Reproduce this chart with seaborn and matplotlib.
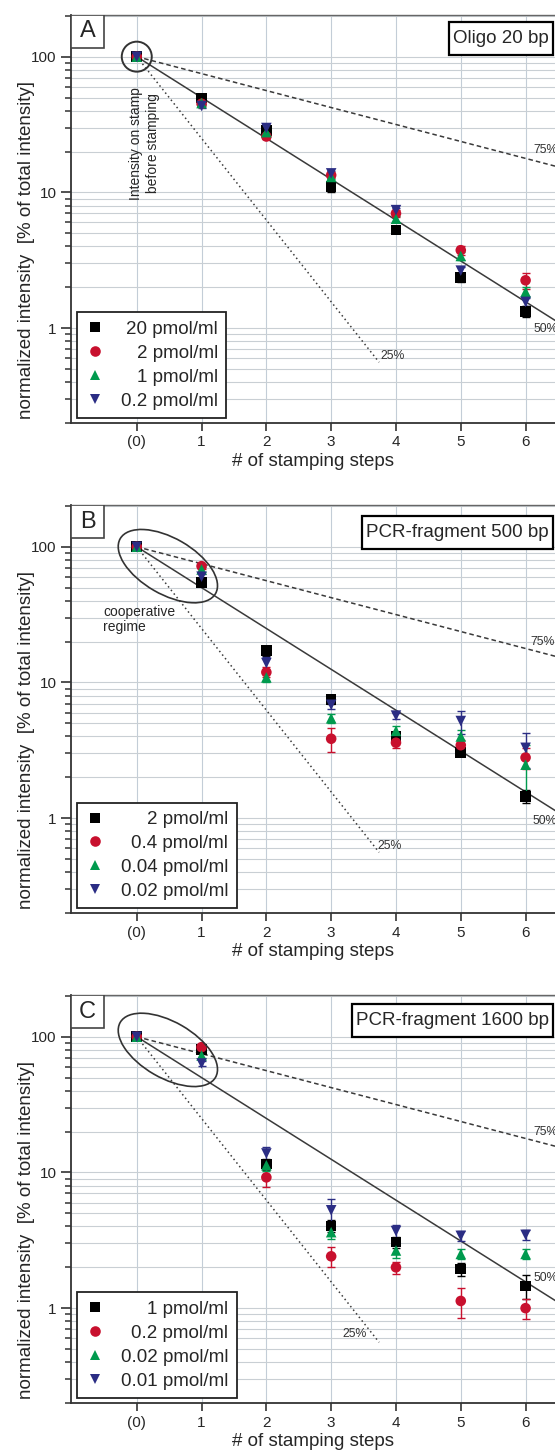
import matplotlib
matplotlib.use("Agg")
import matplotlib.pyplot as plt
import matplotlib.ticker as mticker
import matplotlib.transforms as mtransforms
from matplotlib.patches import Ellipse, Circle, Rectangle
import numpy as np
import pandas as pd
import seaborn as sns

steps = [0, 1, 2, 3, 4, 5, 6]
step_labels = ["(0)", "1", "2", "3", "4", "5", "6"]

colors = ["#000000", "#c8102e", "#009a4e", "#2b2d84"]
markers = ["s", "o", "^", "v"]

# panel A - oligo 20 bp
a_conc = ["20 pmol/ml", "2 pmol/ml", "1 pmol/ml", "0.2 pmol/ml"]
a_vals = [
    [100, 49.5, 28.5, 11.0, 5.3, 2.35, 1.33],
    [100, 45.0, 25.8, 13.4, 7.0, 3.75, 2.25],
    [100, 45.5, 27.8, 13.0, 6.4, 3.40, 1.85],
    [100, 43.3, 29.8, 13.8, 7.4, 2.65, 1.56],
]
a_errs = [
    [0, 2.0, 1.2, 1.0, 0.3, 0.15, 0.12],
    [0, 1.5, 1.0, 0.6, 0.4, 0.30, 0.30],
    [0, 1.5, 1.0, 0.5, 0.3, 0.25, 0.15],
    [0, 1.5, 1.0, 0.6, 0.3, 0.15, 0.10],
]

# panel B - PCR fragment 500 bp
b_conc = ["2 pmol/ml", "0.4 pmol/ml", "0.04 pmol/ml", "0.02 pmol/ml"]
b_vals = [
    [100, 54.3, 17.2, 7.5, 4.0, 3.06, 1.45],
    [100, 72.0, 11.9, 3.85, 3.6, 3.45, 2.80],
    [100, 68.0, 10.9, 5.45, 4.4, 4.0, 2.48],
    [100, 60.2, 13.9, 6.85, 5.7, 5.2, 3.30],
]
b_errs = [
    [0, 2.0, 1.5, 0.6, 0.3, 0.2, 0.15],
    [0, 3.0, 1.0, 0.8, 0.3, 0.3, 0.5],
    [0, 3.0, 0.8, 0.4, 0.4, 0.5, 1.0],
    [0, 3.0, 1.5, 0.5, 0.3, 1.0, 0.95],
]

# panel C - PCR fragment 1600 bp
c_conc = ["1 pmol/ml", "0.2 pmol/ml", "0.02 pmol/ml", "0.01 pmol/ml"]
c_vals = [
    [100, 80.6, 11.5, 4.03, 3.07, 1.94, 1.46],
    [100, 83.8, 9.2, 2.41, 2.00, 1.13, 1.00],
    [100, 72.7, 11.3, 3.63, 2.66, 2.51, 2.51],
    [100, 63.5, 13.8, 5.26, 3.70, 3.41, 3.47],
]
c_errs = [
    [0, 3.0, 1.0, 0.4, 0.3, 0.2, 0.3],
    [0, 3.0, 1.4, 0.4, 0.2, 0.28, 0.17],
    [0, 3.0, 1.0, 0.4, 0.3, 0.2, 0.2],
    [0, 3.0, 1.6, 1.1, 0.4, 0.3, 0.3],
]

ref_rates = [0.75, 0.5, 0.25]
ref_ends = [6.6, 6.6, 3.74]
ref_styles = [(0, (3, 2)), "-", (0, (1, 2))]

sns.set_style("ticks")
plt.rcParams["font.family"] = ["Liberation Sans", "DejaVu Sans"]

fig = plt.figure(figsize=(5.55, 14.5), dpi=100)
bottoms = [0.7083, 0.3703, 0.0324]
axes = [fig.add_axes([0.1279, b, 0.8721, 0.2814]) for b in bottoms]


def draw_panel(ax, letter, title, conc, vals, errs, pct_pos, title_y):
    df = pd.DataFrame({
        "step": steps * len(conc),
        "value": [v for row in vals for v in row],
        "conc": [c for c in conc for _ in steps],
    })
    ax.set_yscale("log")
    # error bars first so markers sit on top
    for row, err, col in zip(vals, errs, colors):
        ax.errorbar(steps, row, yerr=err, fmt="none", ecolor=col,
                    elinewidth=1, capsize=3, capthick=1, zorder=4)
    sns.scatterplot(data=df, x="step", y="value", hue="conc", style="conc",
                    hue_order=conc, style_order=conc, palette=colors,
                    markers=markers, s=58, linewidth=0, ax=ax, zorder=5)

    # reference decay lines
    for rate, end, ls in zip(ref_rates, ref_ends, ref_styles):
        xr = np.linspace(0, end, 200)
        ax.plot(xr, 100 * rate ** xr, color="#3a3a3a", lw=1.1, ls=ls, zorder=3)
    for txt, (px, py) in zip(["75%", "50%", "25%"], pct_pos):
        ax.text(px, py, txt, fontsize=8.8, color="#333333", ha="left",
                va="center", zorder=6)

    ax.set_xlim(-1.015, 6.454)
    ax.set_ylim(0.2, 203)
    ax.set_xticks(steps)
    ax.set_xticklabels(step_labels)
    ax.yaxis.set_major_locator(mticker.FixedLocator([1, 10, 100]))
    ax.yaxis.set_major_formatter(mticker.FuncFormatter(lambda v, _: f"{v:g}"))
    ax.yaxis.set_minor_locator(mticker.LogLocator(base=10, subs=np.arange(2, 10)))
    ax.yaxis.set_minor_formatter(mticker.NullFormatter())
    ax.tick_params(axis="both", which="major", direction="out", labelsize=11,
                   color="#333333", width=1.2)
    ax.tick_params(axis="y", which="major", length=7)
    ax.tick_params(axis="y", which="minor", length=4, width=1.1, color="#333333")
    ax.tick_params(axis="x", which="major", length=6, pad=3)

    ax.grid(True, which="both", axis="y", color="#c9cfd4", lw=0.8)
    ax.grid(True, which="major", axis="x", color="#c3cdd7", lw=0.8)
    ax.set_axisbelow(True)
    for side in ["left", "bottom"]:
        ax.spines[side].set_color("#333333")
        ax.spines[side].set_linewidth(1.3)
    ax.spines["top"].set_color("#666666")
    ax.spines["top"].set_linewidth(1.0)
    ax.spines["right"].set_visible(False)

    ax.set_xlabel("# of stamping steps", fontsize=13.5)
    ax.set_ylabel("normalized intensity  [% of total intensity]", fontsize=13.5)
    ax.xaxis.set_label_coords(0.5, -0.074)
    ax.yaxis.set_label_coords(-0.075, 0.425)

    # panel letter box
    ax.add_patch(Rectangle((0, 1 - 0.081), 0.068, 0.081, transform=ax.transAxes,
                           fc="white", ec="#444444", lw=1.2, zorder=7))
    ax.text(0.034, 1 - 0.0405, letter, transform=ax.transAxes, ha="center",
            va="center", fontsize=17, zorder=8)
    title_txt = ax.text(0.9876, title_y, title, transform=ax.transAxes,
                        ha="right", va="top", fontsize=13.5, zorder=9)

    leg = ax.legend(loc="lower left", bbox_to_anchor=(0.012, 0.012),
                    fontsize=13.5, frameon=True, fancybox=False, framealpha=1,
                    edgecolor="#222222", handlelength=1.0, handletextpad=0.9,
                    labelspacing=0.36, borderpad=0.45, borderaxespad=0,
                    markerscale=1.0)
    leg.get_frame().set_linewidth(1.3)
    leg.set_zorder(9)
    return leg, title_txt


def offset_anchor(ax, x, y):
    # place a patch given in inches around a data point
    return fig.dpi_scale_trans + mtransforms.ScaledTranslation(x, y, ax.transData)


panels = []
panels.append(draw_panel(axes[0], "A", "Oligo 20 bp", a_conc, a_vals, a_errs,
                         [(6.12, 20.5), (6.12, 0.98), (3.76, 0.62)], 0.962))
panels.append(draw_panel(axes[1], "B", "PCR-fragment 500 bp", b_conc, b_vals,
                         b_errs, [(6.08, 20.0), (6.1, 0.96), (3.72, 0.62)], 0.953))
panels.append(draw_panel(axes[2], "C", "PCR-fragment 1600 bp", c_conc, c_vals,
                         c_errs, [(6.12, 19.7), (6.12, 1.66), (3.18, 0.64)], 0.958))

# annotations
axA, axB, axC = axes
axA.add_patch(Circle((0, 0), 0.15, transform=offset_anchor(axA, 0, 100),
                     fill=False, ec="#333333", lw=1.4, zorder=6))
axA.text(0.12, 60, "Intensity on stamp\nbefore stamping", rotation=90,
         ha="center", va="top", fontsize=10, zorder=6)
for ax, yc in [(axB, 72), (axC, 80)]:
    ax.add_patch(Ellipse((0, 0), 1.1, 0.56, angle=-30,
                         transform=offset_anchor(ax, 0.48, yc),
                         fill=False, ec="#333333", lw=1.2, zorder=6))
axB.text(-0.52, 29, "cooperative\nregime", ha="left", va="center",
         fontsize=10, linespacing=1.1, zorder=6)

# right-align the legend labels and frame the panel titles
fig.canvas.draw()
renderer = fig.canvas.get_renderer()
for ax, (leg, title_txt) in zip(axes, panels):
    texts = leg.get_texts()
    widths = [t.get_window_extent(renderer).width for t in texts]
    for t, w in zip(texts, widths):
        t.set_position((max(widths) - w, 0))
    bb = title_txt.get_window_extent(renderer)
    ax.add_patch(Rectangle((bb.x0 - 4, bb.y0 - 8), bb.width + 8, bb.height + 16,
                           transform=mtransforms.IdentityTransform(),
                           fc="white", ec="black", lw=1.6, zorder=8,
                           clip_on=False))

fig.savefig("out.png", dpi=100)
